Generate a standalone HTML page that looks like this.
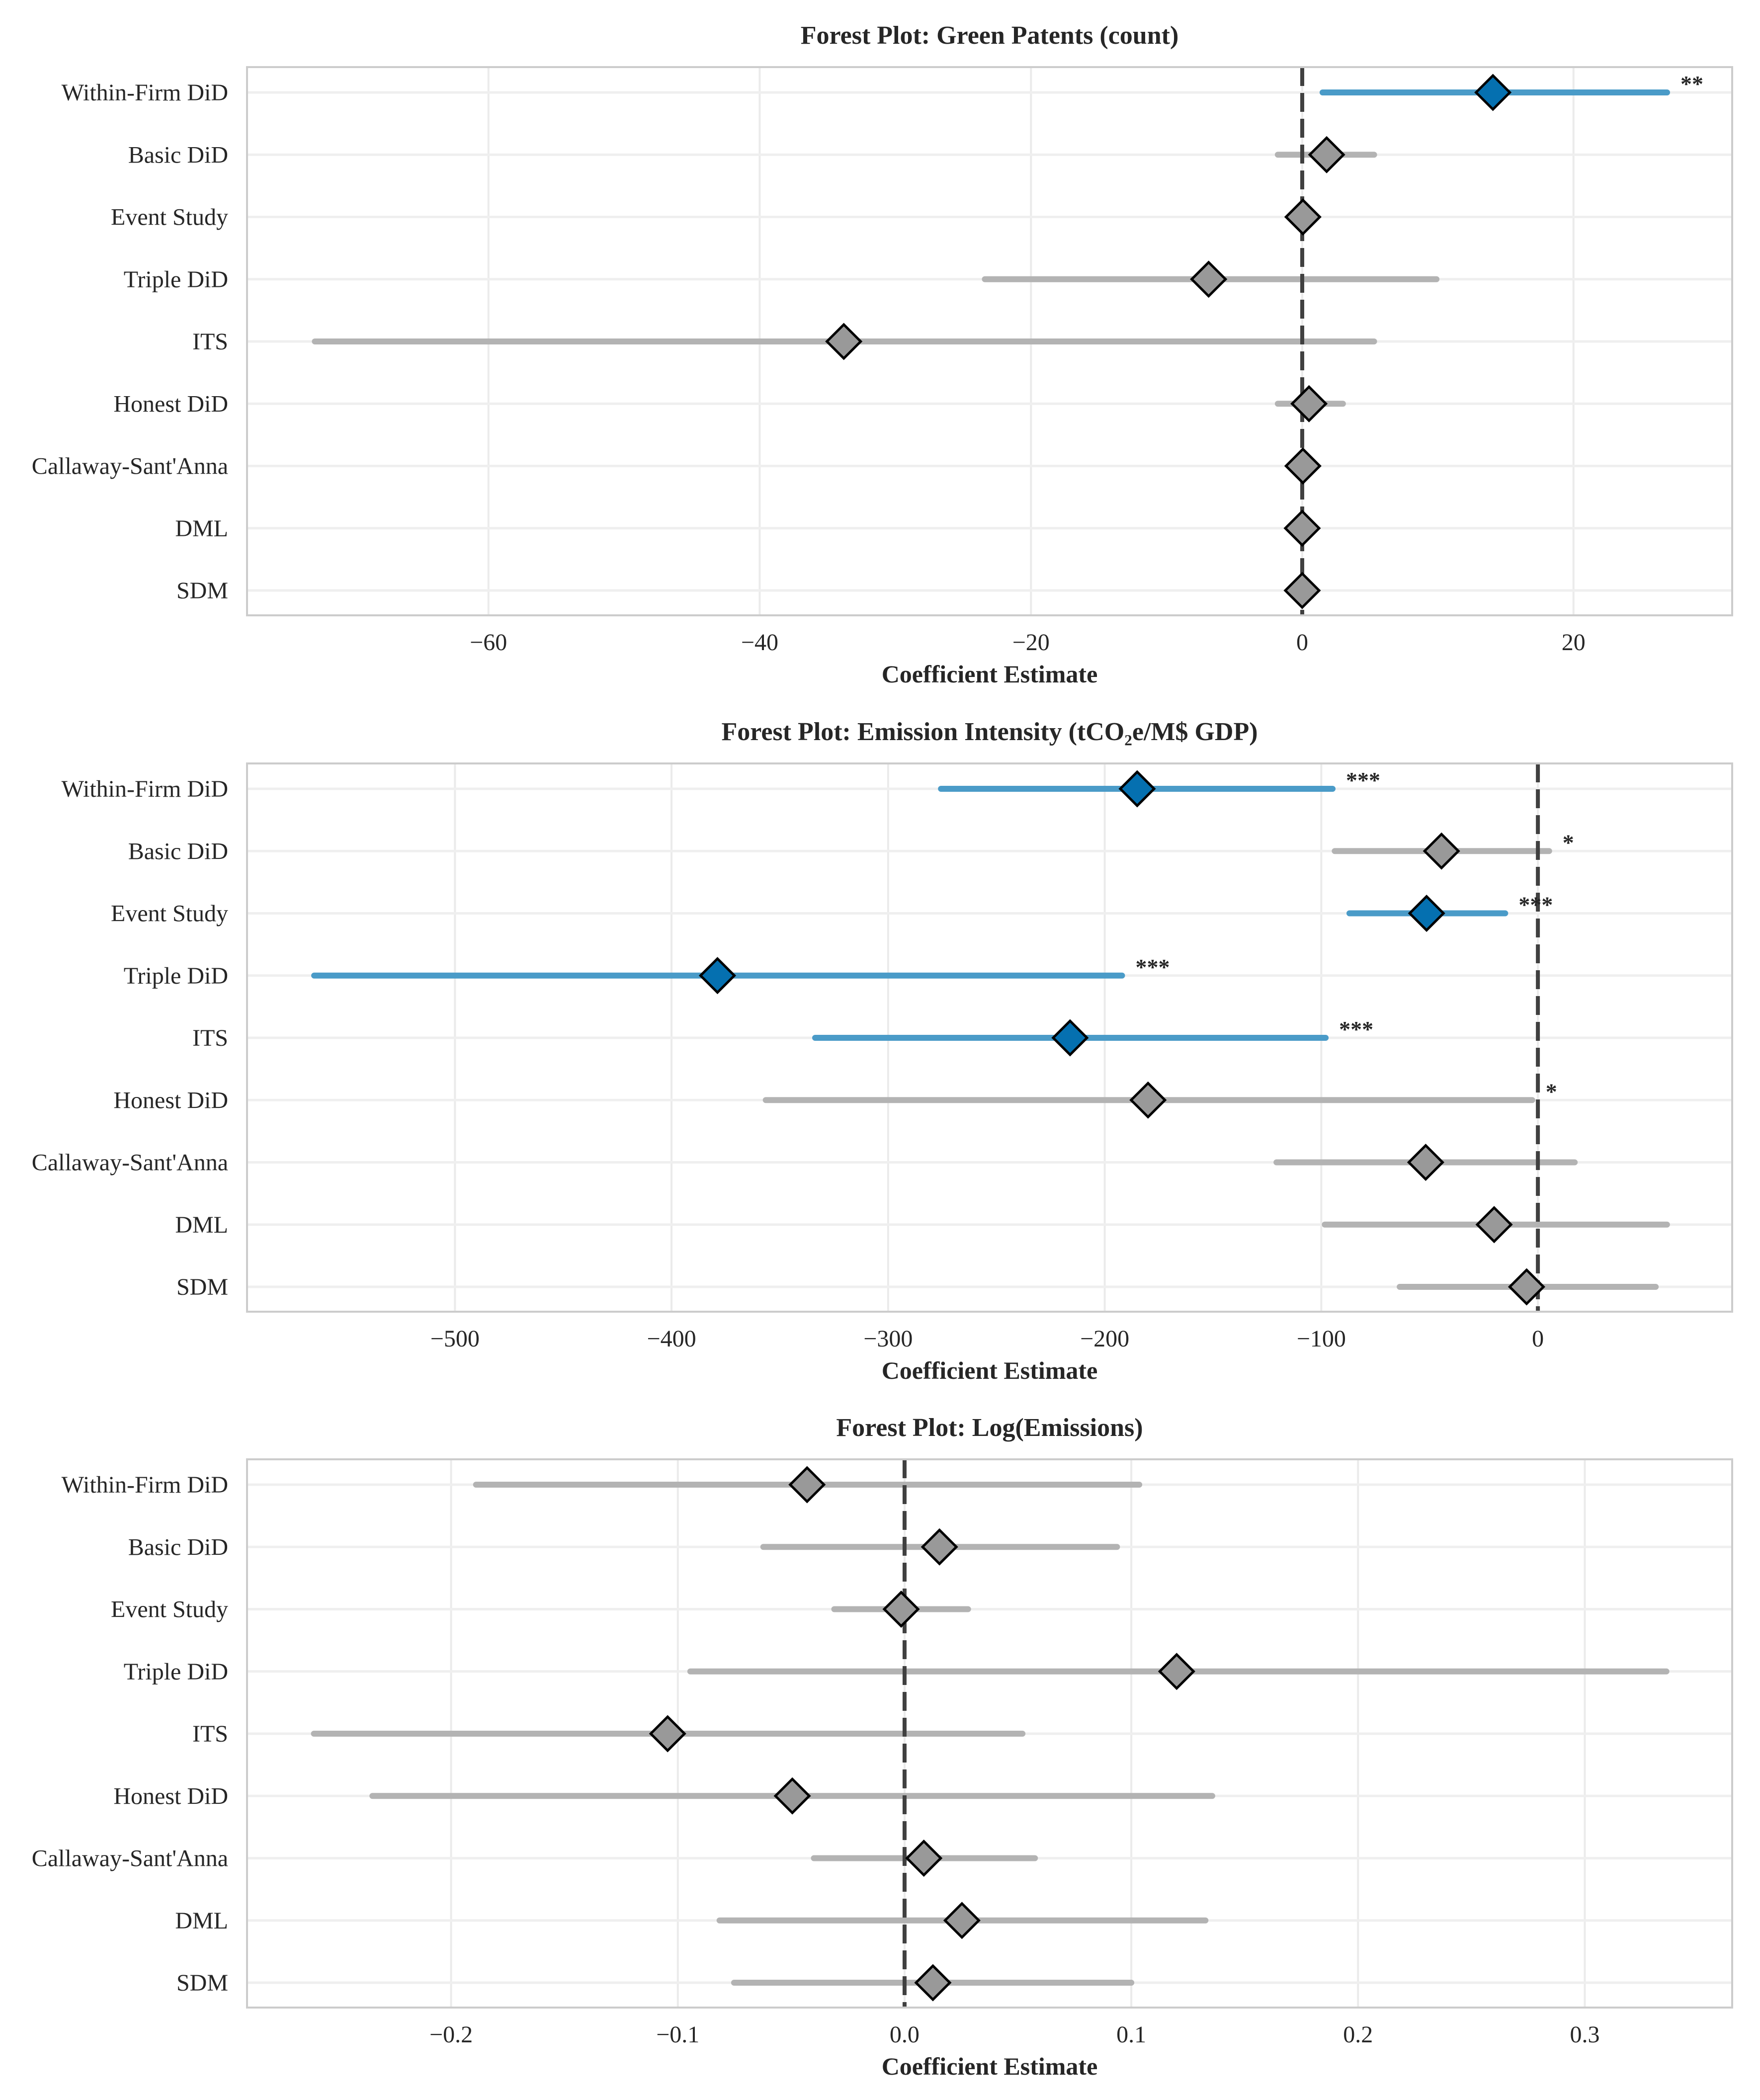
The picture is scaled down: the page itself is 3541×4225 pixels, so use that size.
<!DOCTYPE html>
<html><head><meta charset="utf-8"><style>
html,body{margin:0;padding:0;background:#fff}
svg{display:block}
text{font-family:"Liberation Serif","DejaVu Serif",serif;fill:#262626}
</style></head><body>
<svg id="chart" width="3541" height="4225" viewBox="0 0 3541 4225" xmlns="http://www.w3.org/2000/svg"></svg>
<script>
const methods = ["Within-Firm DiD","Basic DiD","Event Study","Triple DiD","ITS","Honest DiD","Callaway-Sant'Anna","DML","SDM"];

const p1Titles = "Forest Plot: Green Patents (count)";
const p1Est = [14.06, 1.8, 0.05, -6.9, -33.8, 0.5, 0.05, 0.0, 0.0];
const p1Lo  = [1.5, -1.8, -0.3, -23.4, -72.8, -1.8, -0.3, -0.2, -0.2];
const p1Hi  = [26.9, 5.3, 0.4, 9.9, 5.3, 3.0, 0.4, 0.2, 0.2];
const p1Sig = ["**","","","","","","","",""];
const p1Ticks = [-60,-40,-20,0,20];
const p1TickLabels = ["\u221260","\u221240","\u221220","0","20"];
const p1Domain = [-77.8, 31.7];

const p2Title = "Forest Plot: Emission Intensity (tCO\u2082e/M$ GDP)";
const p2Est = [-185, -44.5, -51.4, -378.8, -216, -180, -51.8, -20.2, -5.2];
const p2Lo  = [-275.6, -93.8, -87, -565, -333.7, -356.5, -120.7, -98.4, -63.8];
const p2Hi  = [-94.8, 5.2, -15.1, -192, -98, -2.6, 17, 59.6, 54.4];
const p2Sig = ["***","*","***","***","***","*","","",""];
const p2Ticks = [-500,-400,-300,-200,-100,0];
const p2TickLabels = ["\u2212500","\u2212400","\u2212300","\u2212200","\u2212100","0"];
const p2Domain = [-596, 89.7];

const p3Title = "Forest Plot: Log(Emissions)";
const p3Est = [-0.043, 0.0154, -0.0015, 0.12, -0.1045, -0.0495, 0.0085, 0.0253, 0.0125];
const p3Lo  = [-0.189, -0.0623, -0.031, -0.0945, -0.2605, -0.2347, -0.040, -0.0816, -0.0752];
const p3Hi  = [0.1035, 0.0937, 0.028, 0.336, 0.052, 0.1357, 0.0575, 0.1327, 0.100];
const p3Sig = ["","","","","","","","",""];
const p3Ticks = [-0.2,-0.1,0,0.1,0.2,0.3];
const p3TickLabels = ["\u22120.2","\u22120.1","0.0","0.1","0.2","0.3"];
const p3Domain = [-0.290, 0.365];

const NS = "http://www.w3.org/2000/svg";
const svg = document.getElementById("chart");
function mk(tag, attrs, parent){
  const e = document.createElementNS(NS, tag);
  for (const k in attrs) e.setAttribute(k, attrs[k]);
  (parent||svg).appendChild(e);
  return e;
}

function panel(id, title, est, lo, hi, sig, ticks, tickLabels, domain, top, bottom){
  const L = 497, R = 3485;
  const g = mk("g", {});
  
  
  const x = v => L + (v - domain[0]) / (domain[1] - domain[0]) * (R - L);
  const firstRow = top + 51, lastRow = bottom - 50;
  const y = i => firstRow + i * (lastRow - firstRow) / (methods.length - 1);

  ticks.forEach((t, i) => {
    const gl = mk("line", {x1:x(t), x2:x(t), y1:top, y2:bottom, stroke:"#ebebeb", "stroke-width":4}, g);
    
    
    const tl = mk("text", {x:x(t), y:bottom+70, "text-anchor":"middle", "font-size":48}, g);
    tl.textContent = tickLabels[i];
    
    
  });
  methods.forEach((m, i) => {
    const rl = mk("line", {x1:L, x2:R, y1:y(i), y2:y(i), stroke:"#efefef", "stroke-width":5}, g);
    
    
    const lb = mk("text", {x:459, y:y(i)+16, "text-anchor":"end", "font-size":48}, g);
    lb.textContent = m;
    
    
  });
  methods.forEach((m, i) => {
    const s = sig[i].length >= 2;
    const ci = mk("line", {x1:x(lo[i]), x2:x(hi[i]), y1:y(i), y2:y(i), stroke: s ? "#4a9bc8" : "#b3b3b3", "stroke-width":12, "stroke-linecap":"round"}, g);
    
    
  });
  const z = mk("line", {x1:x(0), x2:x(0), y1:top, y2:bottom, stroke:"#404040", "stroke-width":8, "stroke-dasharray":"38 14"}, g);
  
  
  methods.forEach((m, i) => {
    const s = sig[i].length >= 2;
    const cx = x(est[i]), cy = y(i), h = 34;
    const d = mk("polygon", {points:`${cx},${cy-h} ${cx+h},${cy} ${cx},${cy+h} ${cx-h},${cy}`, fill: s ? "#0570b0" : "#999999", stroke:"#000", "stroke-width":5, "stroke-linejoin":"miter"}, g);
    
    
    if (sig[i] !== "") {
      const st = mk("text", {x:x(hi[i])+27, y:cy-2, "font-size":46, "font-weight":"bold", fill:"#222"}, g);
      st.textContent = sig[i];
      
      
    }
  });
  const fr = mk("rect", {x:L, y:top, width:R-L, height:bottom-top, fill:"none", stroke:"#cccccc", "stroke-width":4}, g);
  
  
  const tt = mk("text", {x:(L+R)/2, y:top-47, "text-anchor":"middle", "font-size":52, "font-weight":"bold"}, g);
  tt.textContent = title;
  
  
  const xl = mk("text", {x:(L+R)/2, y:bottom+135, "text-anchor":"middle", "font-size":50, "font-weight":"bold"}, g);
  xl.textContent = "Coefficient Estimate";
  
  
}

panel("green-patents", p1Titles, p1Est, p1Lo, p1Hi, p1Sig, p1Ticks, p1TickLabels, p1Domain, 135, 1238);
panel("emission-intensity", p2Title, p2Est, p2Lo, p2Hi, p2Sig, p2Ticks, p2TickLabels, p2Domain, 1536, 2639);
panel("log-emissions", p3Title, p3Est, p3Lo, p3Hi, p3Sig, p3Ticks, p3TickLabels, p3Domain, 2936, 4039);
</script>
</body></html>
